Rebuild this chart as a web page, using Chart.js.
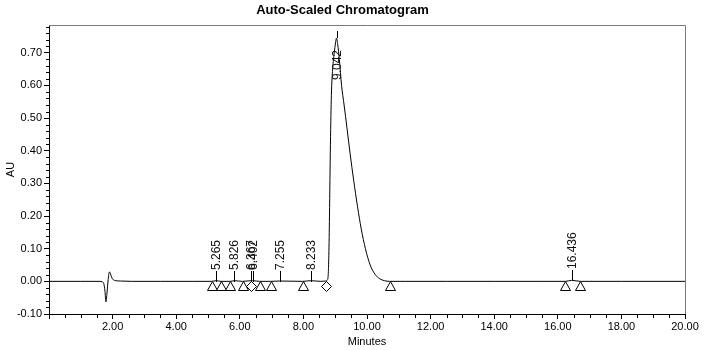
<!DOCTYPE html>
<html>
<head>
<meta charset="utf-8">
<title>Auto-Scaled Chromatogram</title>
<script src="https://cdn.jsdelivr.net/npm/chart.js@4.4.0/dist/chart.umd.min.js"></script>
<style>
  html, body { margin: 0; padding: 0; background: #fff; }
</style>
</head>
<body>
<canvas id="chromChart" width="704" height="350"></canvas>
<script>
// detector trace (minutes, AU)
const traceTimes = [
  0.00, 1.00, 1.60, 1.68, 1.72, 1.76, 1.79, 1.82, 1.86, 1.90, 1.93, 1.97, 2.02, 2.10, 2.25, 2.60,
  3.50, 4.50, 5.10, 5.265, 5.41, 5.70, 5.826, 6.08, 6.367, 6.402, 6.63, 6.97, 7.255, 7.98, 8.233,
  8.55, 8.70, 8.75, 8.78, 8.80, 8.82, 8.85, 8.88, 8.92, 8.97, 9.01, 9.042, 9.08, 9.13, 9.20, 9.28,
  9.37, 9.47, 9.58, 9.70, 9.82, 9.95, 10.10, 10.25, 10.40, 10.55, 10.71, 11.20, 12.50, 14.00,
  15.50, 16.24, 16.436, 16.71, 18.00, 20.00
];
const traceAU = [
  0.000, 0.000, 0.000, -0.002, -0.006, -0.030, -0.063, -0.040, 0.005, 0.029, 0.024, 0.012, 0.005, 0.002, 0.001, 0.000,
  0.000, 0.000, 0.000, 0.002, 0.000, 0.000, 0.002, 0.000, 0.002, 0.002, 0.000, 0.000, 0.001, 0.000, 0.002,
  0.000, 0.001, 0.004, 0.020, 0.080, 0.200, 0.420, 0.570, 0.650, 0.700, 0.730, 0.745, 0.725, 0.680, 0.600, 0.540,
  0.470, 0.390, 0.310, 0.230, 0.160, 0.100, 0.050, 0.022, 0.008, 0.002, 0.000, 0.000, 0.000, 0.000,
  0.000, 0.000, 0.003, 0.000, 0.000, 0.000
];

// integration results
const peakTimes = [5.265, 5.826, 6.367, 6.402, 7.255, 8.233, 9.042, 16.436];
const peakLabels = ["5.265", "5.826", "6.367", "6.402", "7.255", "8.233", "9.042", "16.436"];
const boundaryTimes = [5.12, 5.41, 5.69, 6.09, 6.63, 6.97, 7.98, 10.71, 16.24, 16.71];
const dropTimes = [6.36, 8.70];

// axis ticks
const xTicks = [0, 2, 4, 6, 8, 10, 12, 14, 16, 18, 20];
const yTicks = [-0.1, 0, 0.1, 0.2, 0.3, 0.4, 0.5, 0.6, 0.7];

const FONT = "'Liberation Sans', Arial, sans-serif";

function valueAt(t) {
  let best = 0;
  traceTimes.forEach((tt, i) => {
    if (Math.abs(tt - t) < Math.abs(traceTimes[best] - t)) best = i;
  });
  return traceAU[best];
}

const chromDecor = {
  id: "chromDecor",
  afterDatasetsDraw(chart) {
    const { ctx, chartArea: a, scales: { x, y } } = chart;
    ctx.save();

    // grey frame on top and right
    ctx.strokeStyle = "#7a7a7a";
    ctx.lineWidth = 1;
    ctx.beginPath();
    ctx.moveTo(a.left, a.top + 0.5);
    ctx.lineTo(a.right + 0.5, a.top + 0.5);
    ctx.lineTo(a.right + 0.5, a.bottom);
    ctx.stroke();

    // minor ticks
    ctx.strokeStyle = "#000";
    ctx.beginPath();
    for (let i = 1; i < 40; i++) {
      if (i % 4 === 0) continue;
      const px = Math.round(x.getPixelForValue(i * 0.5)) + 0.5;
      ctx.moveTo(px, a.bottom);
      ctx.lineTo(px, a.bottom + 4);
    }
    for (let i = -4; i <= 39; i++) {
      if (i % 5 === 0) continue;
      const py = Math.round(y.getPixelForValue(i * 0.02)) + 0.5;
      ctx.moveTo(a.left - 3, py);
      ctx.lineTo(a.left, py);
    }
    ctx.stroke();

    // peak start/end triangles and drop-line diamonds, hung under the baseline
    const y0 = Math.round(y.getPixelForValue(0)) + 0.5;
    ctx.fillStyle = "#fff";
    boundaryTimes.forEach(t => {
      const px = Math.round(x.getPixelForValue(t)) + 0.5;
      ctx.beginPath();
      ctx.moveTo(px, y0);
      ctx.lineTo(px + 5, y0 + 9);
      ctx.lineTo(px - 5, y0 + 9);
      ctx.closePath();
      ctx.fill();
      ctx.stroke();
    });
    dropTimes.forEach(t => {
      const px = Math.round(x.getPixelForValue(t)) + 0.5;
      ctx.beginPath();
      ctx.moveTo(px, y0);
      ctx.lineTo(px + 5, y0 + 5);
      ctx.lineTo(px, y0 + 10);
      ctx.lineTo(px - 5, y0 + 5);
      ctx.closePath();
      ctx.fill();
      ctx.stroke();
    });

    // peak retention time labels
    ctx.font = "12px " + FONT;
    ctx.fillStyle = "#111";
    ctx.textBaseline = "middle";
    peakTimes.forEach((t, i) => {
      const px = Math.round(x.getPixelForValue(t)) + 0.5;
      const py = Math.round(y.getPixelForValue(valueAt(t)));
      const w = ctx.measureText(peakLabels[i]).width;
      const inside = py - 11 - w < a.top;
      ctx.beginPath();
      if (inside) {
        ctx.moveTo(px, py);
        ctx.lineTo(px, py - 7);
      } else {
        ctx.moveTo(px, py + 1);
        ctx.lineTo(px, py - 10);
      }
      ctx.stroke();
      ctx.save();
      ctx.translate(px, inside ? py + 12 : py - 11);
      ctx.rotate(-Math.PI / 2);
      ctx.textAlign = inside ? "right" : "left";
      ctx.fillText(peakLabels[i], 0, 0);
      ctx.restore();
    });
    ctx.restore();
  }
};

new Chart(document.getElementById("chromChart"), {
  type: "line",
  data: {
    datasets: [
      {
        data: traceTimes.map((t, i) => ({ x: t, y: traceAU[i] })),
        borderColor: "#000",
        borderWidth: 1,
        pointRadius: 0,
        cubicInterpolationMode: "monotone"
      }
    ]
  },
  options: {
    responsive: false,
    animation: false,
    events: [],
    layout: { padding: { left: 0, right: 19, top: 0, bottom: 0 } },
    plugins: {
      legend: { display: false },
      tooltip: { enabled: false },
      title: {
        display: true,
        text: "Auto-Scaled Chromatogram",
        color: "#000",
        font: { family: FONT, size: 13, weight: "bold", lineHeight: 1.2 },
        padding: { top: 3, bottom: 6.4 }
      }
    },
    scales: {
      x: {
        type: "linear",
        min: 0,
        max: 20,
        afterBuildTicks: scale => { scale.ticks = xTicks.map(v => ({ value: v })); },
        afterFit: scale => { scale.height = 36; },
        ticks: {
          autoSkip: false,
          maxRotation: 0,
          padding: 1,
          color: "#000",
          font: { family: FONT, size: 11 },
          callback: v => (v === 0 ? "" : v.toFixed(2))
        },
        grid: { drawOnChartArea: false, tickLength: 5, color: "#000" },
        border: { color: "#000", width: 1 },
        title: {
          display: true,
          text: "Minutes",
          color: "#000",
          font: { family: FONT, size: 11 },
          padding: { top: 0, bottom: 1 }
        }
      },
      y: {
        min: -0.1,
        max: 0.785,
        afterBuildTicks: scale => { scale.ticks = yTicks.map(v => ({ value: v })); },
        afterFit: scale => { scale.width = 49; },
        ticks: {
          padding: 2,
          color: "#000",
          font: { family: FONT, size: 11 },
          callback: v => v.toFixed(2)
        },
        grid: { drawOnChartArea: false, tickLength: 5, color: "#000" },
        border: { color: "#000", width: 1 },
        title: {
          display: true,
          text: "AU",
          color: "#000",
          font: { family: FONT, size: 11 },
          padding: { top: 4, bottom: 0 }
        }
      }
    }
  },
  plugins: [chromDecor]
});
</script>
</body>
</html>
